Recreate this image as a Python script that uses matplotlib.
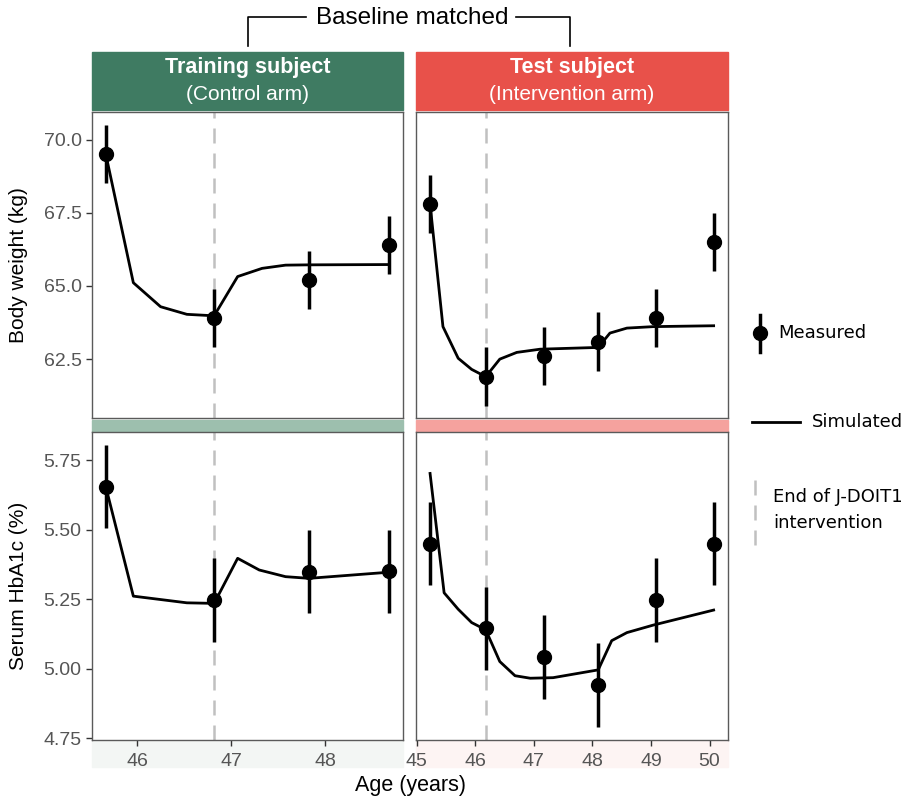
import matplotlib
matplotlib.use("Agg")
import matplotlib.pyplot as plt
from matplotlib.patches import Rectangle

# ---- data ----
train_age = [45.67, 46.82, 47.83, 48.68]
train_bw = [69.5, 63.9, 65.2, 66.4]
train_hba = [5.655, 5.247, 5.349, 5.35]

train_sim_age = [45.67, 45.96, 46.25, 46.53, 46.82, 47.07, 47.33, 47.58, 47.83, 48.68]
train_sim_bw = [69.45, 65.11, 64.29, 64.03, 63.98, 65.32, 65.6, 65.71, 65.72, 65.73]
train_sim_hba_age = [45.67, 45.96, 46.53, 46.82, 47.07, 47.30, 47.58, 47.83, 48.68]
train_sim_hba = [5.65, 5.261, 5.237, 5.235, 5.397, 5.355, 5.331, 5.325, 5.347]

test_age = [45.23, 46.18, 47.18, 48.10, 49.08, 50.07]
test_bw = [67.8, 61.9, 62.6, 63.1, 63.9, 66.5]
test_hba = [5.45, 5.145, 5.043, 4.942, 5.247, 5.45]

test_sim_bw_age = [45.23, 45.45, 45.71, 45.94, 46.18, 46.42, 46.71, 47.11, 48.10, 48.30, 48.59, 49.04, 50.07]
test_sim_bw = [67.8, 63.61, 62.53, 62.15, 61.9, 62.5, 62.73, 62.84, 62.9, 63.39, 63.56, 63.61, 63.64]
test_sim_hba_age = [45.23, 45.47, 45.71, 45.94, 46.18, 46.42, 46.68, 46.94, 47.33, 48.10, 48.33, 48.59, 49.04, 50.07]
test_sim_hba = [5.702, 5.273, 5.214, 5.166, 5.14, 5.026, 4.975, 4.966, 4.968, 4.996, 5.101, 5.13, 5.157, 5.211]

bw_err = 1.0
hba_err = 0.15
end_of_intervention = [46.82, 46.18]

W, H = 922, 799
fig = plt.figure(figsize=(W / 100, H / 100), dpi=100)
plt.rcParams['font.family'] = ['Liberation Sans', 'DejaVu Sans']


def box(x0, y0, x1, y1):
    return [x0 / W, 1 - y1 / H, (x1 - x0) / W, (y1 - y0) / H]


cols = [(92, 403), (416, 727.7)]
rows = [(111.7, 417.7), (431.7, 740)]
strip_dark = ['#3f7b62', '#e8514a']
strip_light = ['#9dbfae', '#f5a29e']
tint = ['#f3f6f4', '#fdf4f3']
xlims = [(45.52, 48.83), (44.99, 50.31)]
ylims = [(60.5, 70.95), (4.744, 5.852)]
yticks = [[62.5, 65.0, 67.5, 70.0], [4.75, 5.00, 5.25, 5.50, 5.75]]
ytlabels = [['62.5', '65.0', '67.5', '70.0'], ['4.75', '5.00', '5.25', '5.50', '5.75']]
xticks = [[46, 47, 48], [45, 46, 47, 48, 49, 50]]

meas = [[(train_age, train_bw, bw_err), (test_age, test_bw, bw_err)],
        [(train_age, train_hba, hba_err), (test_age, test_hba, hba_err)]]
sims = [[(train_sim_age, train_sim_bw), (test_sim_bw_age, test_sim_bw)],
        [(train_sim_hba_age, train_sim_hba), (test_sim_hba_age, test_sim_hba)]]

# strip / tint backgrounds (behind the axes)
for c, (x0, x1) in enumerate(cols):
    fig.patches.append(Rectangle((x0 / W, 1 - 110 / H), (x1 - x0) / W, 58 / H,
                                 transform=fig.transFigure, color=strip_dark[c], zorder=-2))
    fig.patches.append(Rectangle((x0 / W, 1 - 431.5 / H), (x1 - x0) / W, 12 / H,
                                 transform=fig.transFigure, color=strip_light[c], zorder=-2))
    fig.patches.append(Rectangle((x0 / W, 1 - 767 / H), (x1 - x0) / W, 27 / H,
                                 transform=fig.transFigure, color=tint[c], zorder=-2))

titles = [('Training subject', '(Control arm)'), ('Test subject', '(Intervention arm)')]
for c, (x0, x1) in enumerate(cols):
    xc = (x0 + x1) / 2 / W
    fig.text(xc, 1 - 68 / H, titles[c][0], ha='center', va='center', color='white',
             fontsize=15.5, fontweight='bold')
    fig.text(xc, 1 - 94 / H, titles[c][1], ha='center', va='center', color='white',
             fontsize=15)

for r, (y0, y1) in enumerate(rows):
    for c, (x0, x1) in enumerate(cols):
        ax = fig.add_axes(box(x0, y0, x1, y1))
        ax.set_facecolor('white')
        ax.axvline(end_of_intervention[c], color='#c0c0c0', lw=1.8,
                   linestyle=(0, (6, 4)), zorder=1)
        sx, sy = sims[r][c]
        ax.plot(sx, sy, color='black', lw=2.0, zorder=3)
        mx, my, me = meas[r][c]
        ax.errorbar(mx, my, yerr=me, fmt='o', color='black', ms=10,
                    elinewidth=2.5, capsize=0, zorder=4)
        ax.set_xlim(xlims[c])
        ax.set_ylim(ylims[r])
        for s in ax.spines.values():
            s.set_color('#5a5a5a')
            s.set_linewidth(1.0)
        ax.tick_params(colors='#333333', labelcolor='#555555', labelsize=14,
                       length=4, width=1.0)
        ax.tick_params(axis='x', pad=5)
        if c == 0:
            ax.set_yticks(yticks[r])
            ax.set_yticklabels(ytlabels[r])
        else:
            ax.set_yticks([])
        if r == 1:
            ax.set_xticks(xticks[c])
        else:
            ax.set_xticks([])

fig.text(19 / W, 1 - 265 / H, 'Body weight (kg)', rotation=90, ha='center', va='center',
         fontsize=15)
fig.text(19 / W, 1 - 586 / H, 'Serum HbA1c (%)', rotation=90, ha='center', va='center',
         fontsize=15)
fig.text(410 / W, 1 - 786 / H, 'Age (years)', ha='center', va='center', fontsize=15.5)

# overlay in pixel coordinates for bracket and legend
ov = fig.add_axes([0, 0, 1, 1], facecolor='none')
ov.set_xlim(0, W)
ov.set_ylim(H, 0)
ov.axis('off')
ov.plot([248, 248, 306], [46, 17, 17], color='black', lw=1.2)
ov.plot([516, 570, 570], [17, 17, 46], color='black', lw=1.2)
ov.text(412, 18, 'Baseline matched', ha='center', va='center', fontsize=17.5)

leg_font = 'DejaVu Sans'
ov.plot([760, 760], [315, 352], color='black', lw=2.5)
ov.plot([760], [333], 'o', color='black', ms=10)
ov.text(778, 333, 'Measured', ha='left', va='center', fontsize=13, family=leg_font)
ov.plot([752, 800], [422, 422], color='black', lw=2.0)
ov.text(812, 422, 'Simulated', ha='left', va='center', fontsize=13, family=leg_font)
ov.plot([755, 755], [480, 545], color='#c0c0c0', lw=1.8, linestyle=(0, (6, 4)))
ov.text(773, 497, 'End of J-DOIT1', ha='left', va='center', fontsize=13, family=leg_font)
ov.text(773, 523, 'intervention', ha='left', va='center', fontsize=13, family=leg_font)

fig.savefig('out.png', dpi=100)
